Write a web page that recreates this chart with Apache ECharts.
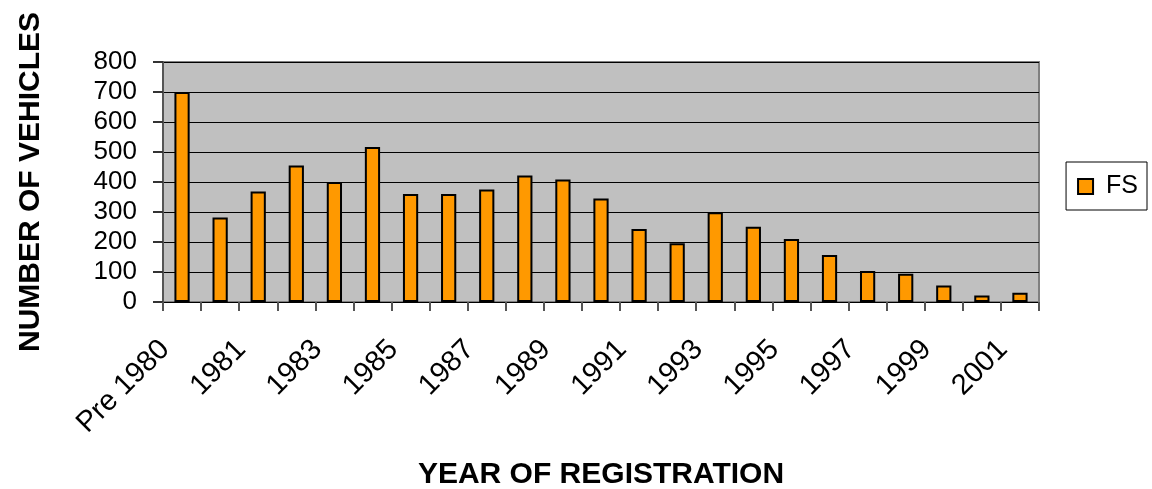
<!DOCTYPE html>
<html>
<head>
<meta charset="utf-8">
<script src="https://cdn.jsdelivr.net/npm/echarts@6/dist/echarts.min.js"></script>
<style>
  html, body { margin: 0; padding: 0; background: #fff; }
  #chart { width: 1152px; height: 489px; }
</style>
</head>
<body>
<div id="chart"></div>
<script>
// Registration year of each vehicle group
const categories = ['Pre 1980', '1980', '1981', '1982', '1983', '1984', '1985', '1986',
  '1987', '1988', '1989', '1990', '1991', '1992', '1993', '1994', '1995', '1996',
  '1997', '1998', '1999', '2000', '2001'];

// Number of vehicles per registration year (series FS)
const fsValues = [700, 282, 368, 455, 400, 517, 360, 360, 375, 422, 408, 345,
  243, 196, 299, 251, 210, 157, 103, 94, 55, 22, 31];

const seriesName = 'FS';
const yTicks = { min: 0, max: 800, interval: 100 };

const font = 'Liberation Sans, Arial, sans-serif';

const chart = echarts.init(document.getElementById('chart'), null, { renderer: 'canvas' });

chart.setOption({
  animation: false,
  backgroundColor: '#ffffff',
  textStyle: { fontFamily: font, color: '#000' },
  grid: {
    left: 163, right: 113, top: 62, bottom: 187,
    outerBoundsMode: 'none',
    containLabel: false,
    show: true,
    backgroundColor: '#C0C0C0',
    borderColor: '#808080',
    borderWidth: 2
  },
  legend: {
    data: [seriesName],
    right: 5, top: 162,
    orient: 'vertical',
    backgroundColor: '#ffffff',
    borderColor: '#000',
    borderWidth: 1,
    padding: [12, 9, 11, 11],
    itemWidth: 15, itemHeight: 15,
    icon: 'rect',
    textStyle: { fontSize: 25, fontFamily: font, color: '#000', padding: [0, 0, 0, 8] }
  },
  xAxis: {
    type: 'category',
    data: categories,
    boundaryGap: true,
    name: 'YEAR OF REGISTRATION',
    nameLocation: 'middle',
    nameGap: 158,
    nameTextStyle: { fontSize: 30, fontWeight: 'bold', fontFamily: font, color: '#000' },
    axisLine: { show: true, lineStyle: { color: '#000', width: 1 } },
    axisTick: { show: true, interval: 0, length: 9, lineStyle: { color: '#555', width: 2 } },
    axisLabel: {
      interval: 1,
      rotate: 45,
      margin: 26,
      padding: [0, 24, 0, 0],
      fontSize: 29,
      fontFamily: font,
      color: '#000'
    },
    splitLine: { show: false }
  },
  yAxis: {
    type: 'value',
    min: yTicks.min, max: yTicks.max, interval: yTicks.interval,
    name: 'NUMBER OF VEHICLES',
    nameLocation: 'middle',
    nameGap: 117,
    nameRotate: 90,
    nameTextStyle: { fontSize: 30, fontWeight: 'bold', fontFamily: font, color: '#000' },
    axisLine: { show: true, lineStyle: { color: '#555', width: 2 } },
    axisTick: { show: true, length: 10, lineStyle: { color: '#333', width: 2 } },
    axisLabel: { margin: 26, fontSize: 26, fontFamily: font, color: '#000' },
    splitLine: { show: true, lineStyle: { color: '#000', width: 1 } }
  },
  series: [{
    name: seriesName,
    type: 'bar',
    data: fsValues,
    barWidth: '40%',
    itemStyle: { color: '#FF9900', borderColor: '#000', borderWidth: 2 }
  }]
});
</script>
</body>
</html>
